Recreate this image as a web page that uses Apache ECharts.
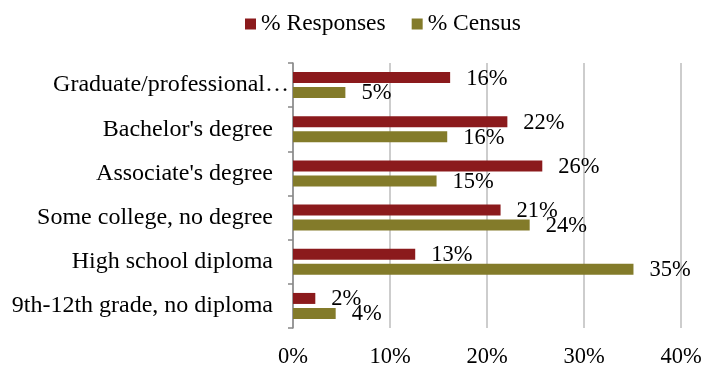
<!DOCTYPE html>
<html>
<head>
<meta charset="utf-8">
<script src="https://cdn.jsdelivr.net/npm/echarts@6/dist/echarts.min.js"></script>
<style>
  html, body { margin: 0; padding: 0; background: #fff; }
  #chart { width: 717px; height: 369px; }
</style>
</head>
<body>
<div id="chart"></div>
<script>
// Education levels, listed top to bottom
const categories = [
  'Graduate/professional…',
  "Bachelor's degree",
  "Associate's degree",
  'Some college, no degree',
  'High school diploma',
  '9th-12th grade, no diploma'
];
const responses = [16.2, 22.1, 25.7, 21.4, 12.6, 2.3];
const census = [5.4, 15.9, 14.8, 24.4, 35.1, 4.4];
const xTicks = [0, 10, 20, 30, 40];

const serif = '"Liberation Serif", "Times New Roman", serif';
const pct = p => Math.round(p.value) + '%';

const chart = echarts.init(document.getElementById('chart'));
chart.setOption({
  animation: false,
  textStyle: { fontFamily: serif },
  legend: {
    top: 7,
    left: 240,
    itemWidth: 11,
    itemHeight: 11,
    itemGap: 26,
    icon: 'rect',
    data: ['% Responses', '% Census'],
    textStyle: { fontFamily: serif, fontSize: 23.5, color: '#000' }
  },
  grid: { left: 293, right: 36, top: 63, bottom: 41, containLabel: false },
  xAxis: {
    type: 'value',
    min: xTicks[0],
    max: xTicks[xTicks.length - 1],
    interval: 10,
    axisLine: { show: false },
    axisTick: { show: false },
    axisLabel: {
      margin: 18,
      fontFamily: serif,
      fontSize: 22.5,
      color: '#000',
      formatter: v => v + '%'
    },
    splitLine: { lineStyle: { color: '#bdbdbd', width: 1.5 } }
  },
  yAxis: {
    type: 'category',
    inverse: true,
    data: categories,
    axisLine: { show: true, lineStyle: { color: '#888', width: 1.5 } },
    axisTick: { show: true, length: 5, lineStyle: { color: '#888', width: 1.5 } },
    axisLabel: {
      margin: 4,
      fontFamily: serif,
      fontSize: 24,
      color: '#000',
      formatter: v => v.endsWith('…') ? '{g|' + v + '}' : '{n|' + v + '}',
      rich: {
        g: { fontFamily: serif, fontSize: 24, color: '#000' },
        n: { fontFamily: serif, fontSize: 24, color: '#000', padding: [0, 16, 0, 0] }
      }
    }
  },
  series: [
    {
      name: '% Responses',
      type: 'bar',
      data: responses,
      barWidth: 11,
      barGap: '36%',
      itemStyle: { color: '#8b1a1c' },
      label: {
        show: true,
        position: 'right',
        distance: 16,
        offset: [0, 1],
        fontFamily: serif,
        fontSize: 22.5,
        color: '#000',
        formatter: pct
      }
    },
    {
      name: '% Census',
      type: 'bar',
      data: census,
      barWidth: 11,
      barGap: '36%',
      itemStyle: { color: '#837b2a' },
      label: {
        show: true,
        position: 'right',
        distance: 16,
        offset: [0, 1],
        fontFamily: serif,
        fontSize: 22.5,
        color: '#000',
        formatter: pct
      }
    }
  ]
});
</script>
</body>
</html>
